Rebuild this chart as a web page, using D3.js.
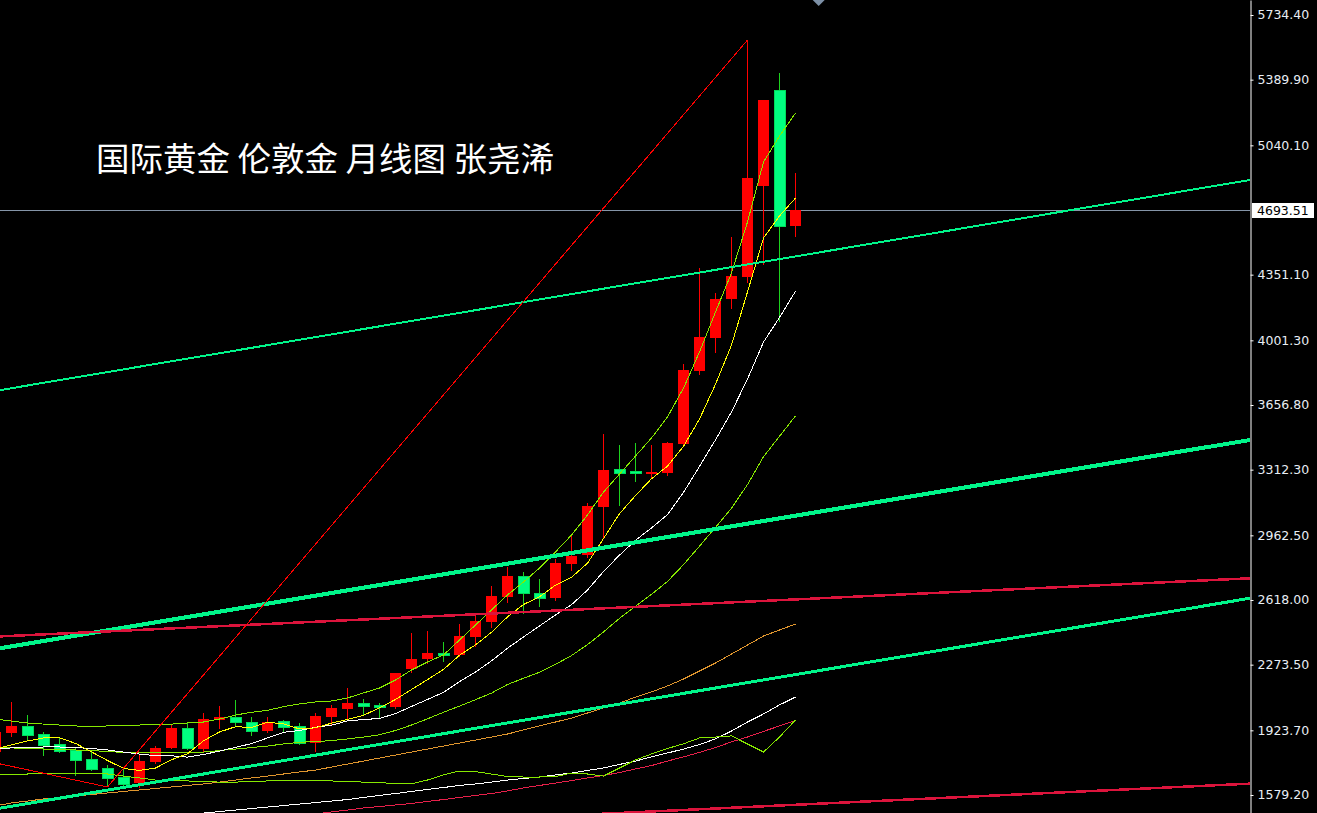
<!DOCTYPE html>
<html>
<head>
<meta charset="utf-8">
<script src="https://cdn.jsdelivr.net/npm/d3@7/dist/d3.min.js"></script>
<style>
  html, body { margin: 0; padding: 0; background: #000; }
  svg { display: block; }
</style>
</head>
<body>
<svg id="chart" width="1317" height="813"></svg>
<script>
'use strict';

// Monthly candles, London gold (Feb 2022 .. Apr 2026)
var months = [
  '2022-02','2022-03','2022-04','2022-05','2022-06','2022-07','2022-08','2022-09','2022-10','2022-11','2022-12',
  '2023-01','2023-02','2023-03','2023-04','2023-05','2023-06','2023-07','2023-08','2023-09','2023-10','2023-11','2023-12',
  '2024-01','2024-02','2024-03','2024-04','2024-05','2024-06','2024-07','2024-08','2024-09','2024-10','2024-11','2024-12',
  '2025-01','2025-02','2025-03','2025-04','2025-05','2025-06','2025-07','2025-08','2025-09','2025-10','2025-11','2025-12',
  '2026-01','2026-02','2026-03','2026-04'
];
var open  = [1808,1909,1947,1904,1851,1819,1771,1723,1675,1643,1755,1830,1936,1824,1979,1995,1968,1920,1973,1947,1856,1995,2037,2069,2059,2048,2250,2304,2336,2325,2421,2501,2634,2746,2655,2629,2810,2858,3113,3316,3305,3289,3295,3449,3838,4014,4221,4339,4823,5335,4610];
var high  = [1968,2075,2005,1915,1888,1835,1808,1739,1728,1792,1840,1952,1963,2016,2053,2085,1995,1995,1979,1963,2016,2059,2149,2091,2069,2229,2442,2453,2394,2490,2538,2693,2794,2767,2730,2836,2959,3135,3502,3444,3454,3444,3460,3875,4387,4253,4552,5601,5281,5425,4893];
var low   = [1782,1888,1872,1787,1803,1680,1707,1622,1617,1617,1744,1824,1819,1808,1931,1941,1894,1909,1909,1846,1808,1952,1979,2005,1989,2037,2229,2277,2288,2314,2368,2469,2602,2543,2581,2613,2772,2842,2948,3119,3247,3263,3279,3433,3817,3934,4168,4307,4403,4099,4552];
var close = [1915,1947,1899,1846,1814,1766,1718,1670,1638,1760,1830,1936,1830,1984,1995,1968,1920,1968,1941,1856,2000,2043,2069,2053,2048,2229,2304,2336,2325,2426,2506,2639,2746,2655,2629,2815,2852,3119,3311,3295,3295,3300,3454,3843,4019,4221,4344,4866,5281,4610,4693.51];

// Indicator lines, one value per candle (null = not drawn)
var ma5   = [1824,1846,1867,1883,1884,1854,1809,1763,1721,1710,1723,1767,1799,1868,1915,1943,1939,1967,1958,1931,1937,1962,1982,2004,2043,2088,2141,2194,2248,2324,2379,2446,2528,2594,2635,2697,2739,2814,2945,3078,3174,3264,3331,3437,3582,3767,3976,4259,4546,4664,4759];
var ma10  = [1824,1830,1832,1835,1835,1832,1827,1819,1808,1797,1789,1788,1781,1795,1813,1833,1853,1883,1913,1923,1940,1951,1974,1981,1987,2013,2051,2088,2126,2183,2234,2294,2361,2421,2480,2538,2593,2671,2770,2857,2936,3002,3073,3191,3330,3471,3620,3795,3992,4123,4263];
var bollMid = [1832,1830,1827,1824,1822,1819,1816,1811,1806,1803,1803,1803,1806,1808,1816,1824,1832,1840,1851,1860,1864,1869,1878,1888,1900,1923,1952,1985,2020,2053,2087,2122,2168,2201,2233,2275,2322,2380,2448,2520,2585,2648,2717,2806,2905,3005,3107,3233,3381,3490,3599];
var bollUp  = [1984,1973,1963,1957,1952,1947,1944,1947,1949,1952,1955,1957,1963,1968,1984,2005,2020,2030,2050,2064,2075,2080,2096,2123,2149,2192,2245,2288,2325,2405,2485,2565,2645,2714,2788,2874,2964,3071,3193,3289,3385,3481,3593,3747,3939,4152,4360,4632,4951,5090,5212];
var bollDn  = [1686,1686,1691,1694,1695,1695,1695,1691,1680,1670,1659,1656,1654,1651,1648,1648,1651,1654,1656,1659,1656,1654,1651,1648,1645,1640,1638,1659,1686,1707,1704,1691,1677,1675,1675,1677,1696,1691,1680,1723,1766,1798,1827,1852,1883,1888,1894,1851,1808,1888,1979];
var ma60  = [1521,1537,1547,1558,1566,1574,1582,1590,1598,1606,1614,1622,1630,1638,1648,1659,1670,1680,1691,1702,1712,1728,1744,1760,1776,1792,1808,1824,1840,1856,1872,1888,1904,1926,1947,1968,1989,2016,2043,2069,2101,2128,2160,2197,2240,2282,2330,2378,2426,2458,2490];
var ma120 = [null,null,null,null,null,null,null,null,null,null,null,1467,1475,1483,1491,1499,1507,1515,1523,1531,1539,1547,1555,1566,1577,1587,1598,1609,1619,1630,1638,1648,1659,1667,1675,1686,1696,1710,1723,1742,1760,1782,1803,1824,1848,1878,1920,1968,2011,2059,2101];
var ma250 = [null,null,null,null,null,null,null,null,null,null,null,null,null,null,null,null,null,null,null,1467,1478,1489,1499,1510,1518,1526,1534,1545,1555,1566,1577,1587,1601,1617,1630,1643,1656,1670,1683,1699,1718,1736,1760,1782,1806,1832,1862,1888,1918,1947,1976];

// Hand drawn trend lines: anchors as [candle index, price]
var trendLines = [
  {name: 'channelTop',  a: [0, 3732], b: [79, 4864], color: '#00f58a', width: 2},
  {name: 'channelMid',  a: [0, 2357], b: [79, 3479], color: '#00f58a', width: 4},
  {name: 'channelLow',  a: [0, 1505], b: [79, 2636], color: '#00f58a', width: 3},
  {name: 'redTop',      a: [0, 2423], b: [79, 2736], color: '#dc143c', width: 2.5},
  {name: 'redLow',      a: [0, 1329], b: [79, 1642], color: '#dc143c', width: 2.5},
  {name: 'rallyLine',   a: [7, 1622], b: [47, 5601], color: '#ff0000', width: 1},
  {name: 'declineLine', a: [0, 1750], b: [7, 1622],  color: '#ff0000', width: 1}
];

var tickVals = [5734.40, 5389.90, 5040.10, 4351.10, 4001.30, 3656.80, 3312.30, 2962.50, 2618.00, 2273.50, 1923.70, 1579.20];
var lastPrice = 4693.51;
var title = '国际黄金 伦敦金 月线图 张尧浠';
var markerIndex = 51.45;

// Setup
var width = 1317, height = 813, plotRight = 1250;
var svg = d3.select('#chart');

var x = d3.scaleBand().domain(months).range([-12.5, -12.5 + 16 * months.length]);
var bw = x.bandwidth();
var xi = d3.scaleLinear()
    .domain([0, months.length - 1])
    .range([x(months[0]) + bw / 2, x(months[months.length - 1]) + bw / 2]);
var y = d3.scaleLinear().domain([1483.3, 5814.3]).range([height, 0]);

svg.append('rect').attr('width', width).attr('height', height).attr('fill', '#000');

svg.append('defs').append('clipPath').attr('id', 'plot')
  .append('rect').attr('x', 0).attr('y', 0).attr('width', plotRight).attr('height', height);

var g = svg.append('g').attr('clip-path', 'url(#plot)');

// Last price line
g.append('line')
    .attr('x1', 0).attr('x2', plotRight)
    .attr('y1', Math.round(y(lastPrice)) + 0.5).attr('y2', Math.round(y(lastPrice)) + 0.5)
    .attr('stroke', '#8595a8').attr('stroke-width', 1);

// Candles
var candles = months.map(function(m, i) {
  return {m: m, o: open[i], h: high[i], l: low[i], c: close[i]};
});
var up = '#ff0000', downFill = '#00ff80', downEdge = '#00dc5a', downWick = '#1ed21e';

var cg = g.append('g').attr('shape-rendering', 'crispEdges');
cg.selectAll('line.wick').data(candles).enter().append('line')
    .attr('class', 'wick')
    .attr('x1', function(d) { return x(d.m) + bw / 2; })
    .attr('x2', function(d) { return x(d.m) + bw / 2; })
    .attr('y1', function(d) { return y(d.h); })
    .attr('y2', function(d) { return y(d.l); })
    .attr('stroke', function(d) { return d.c >= d.o ? up : downWick; })
    .attr('stroke-width', 1);

cg.selectAll('rect.body').data(candles).enter().append('rect')
    .attr('class', 'body')
    .attr('x', function(d) { return x(d.m) + bw / 2 - 5.5; })
    .attr('width', 11)
    .attr('y', function(d) { return Math.round(y(Math.max(d.o, d.c))); })
    .attr('height', function(d) { return Math.max(2, Math.round(Math.abs(y(d.o) - y(d.c)))); })
    .attr('fill', function(d) { return d.c >= d.o ? up : downFill; })
    .attr('stroke', function(d) { return d.c >= d.o ? 'none' : downEdge; })
    .attr('stroke-width', 1);

// Indicator lines
var line = d3.line()
    .defined(function(d) { return d != null; })
    .x(function(d, i) { return xi(i); })
    .y(function(d) { return y(d); });

var series = [
  {v: ma250, color: '#e8204a'},
  {v: ma120, color: '#ffffff'},
  {v: ma60, color: '#e0962e'},
  {v: bollDn, color: '#86e800'},
  {v: bollUp, color: '#86e800'},
  {v: bollMid, color: '#86e800'},
  {v: ma10, color: '#ffffff'},
  {v: ma5, color: '#ffff00'}
];
series.forEach(function(s) {
  g.append('path')
      .datum(s.v)
      .attr('fill', 'none')
      .attr('stroke', s.color)
      .attr('stroke-width', 1)
      .attr('shape-rendering', 'crispEdges')
      .attr('d', line);
});

// Trend lines
trendLines.forEach(function(t) {
  g.append('line')
      .attr('x1', xi(t.a[0])).attr('y1', y(t.a[1]))
      .attr('x2', xi(t.b[0])).attr('y2', y(t.b[1]))
      .attr('stroke', t.color)
      .attr('stroke-width', t.width)
      .attr('shape-rendering', 'crispEdges');
});

// Marker at the top
var mx = xi(markerIndex);
svg.append('path')
    .attr('d', 'M' + (mx - 6) + ',0 L' + (mx + 6) + ',0 L' + mx + ',6 Z')
    .attr('fill', '#7d90a6');

// Title
svg.append('text')
    .attr('x', 96).attr('y', 171)
    .attr('font-family', '"Noto Sans CJK SC", sans-serif')
    .attr('font-size', '33.5px')
    .attr('fill', '#ffffff')
    .attr('xml:space', 'preserve')
    .text(title);

// Price axis
var axis = svg.append('g')
    .attr('transform', 'translate(' + (plotRight + 0.5) + ',0)')
    .call(d3.axisRight(y).tickValues(tickVals).tickSize(3).tickSizeOuter(0).tickPadding(4)
      .tickFormat(d3.format('.2f')));
axis.select('.domain').attr('stroke', '#ffffff');
axis.selectAll('.tick line').attr('stroke', '#ffffff');
axis.selectAll('.tick text')
    .attr('fill', '#e8eef4')
    .attr('font-family', '"DejaVu Sans", sans-serif')
    .attr('font-size', '12.5px');

// Last price tag
var ly = y(lastPrice);
svg.append('rect')
    .attr('x', plotRight + 2).attr('y', Math.round(ly) - 7)
    .attr('width', 62).attr('height', 15)
    .attr('fill', '#ffffff');
svg.append('text')
    .attr('x', plotRight + 7).attr('y', ly)
    .attr('dy', '0.35em')
    .attr('font-family', '"DejaVu Sans", sans-serif')
    .attr('font-size', '12.5px')
    .attr('fill', '#000000')
    .text(lastPrice.toFixed(2));
</script>
</body>
</html>
